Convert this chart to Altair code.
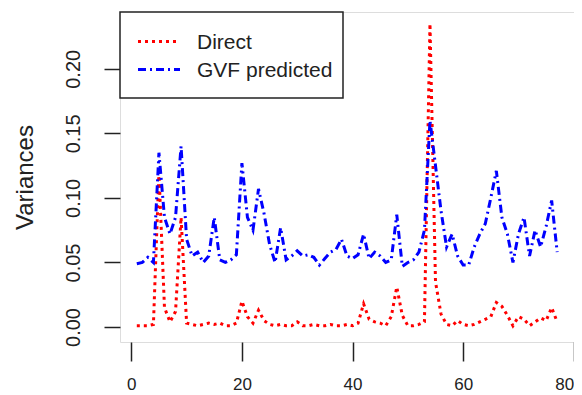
import altair as alt
import pandas as pd

x_index = list(range(1, 78))

direct = [
    0.001, 0.001, 0.001, 0.002, 0.120, 0.015, 0.004, 0.012, 0.085, 0.003,
    0.002, 0.001, 0.002, 0.003, 0.002, 0.003, 0.001, 0.001, 0.003, 0.020,
    0.008, 0.003, 0.013, 0.005, 0.002, 0.001, 0.002, 0.001, 0.001, 0.004,
    0.001, 0.001, 0.002, 0.001, 0.001, 0.002, 0.001, 0.001, 0.002, 0.001,
    0.003, 0.018, 0.006, 0.004, 0.003, 0.001, 0.008, 0.031, 0.009, 0.001,
    0.001, 0.002, 0.004, 0.235, 0.035, 0.010, 0.002, 0.001, 0.005, 0.002,
    0.001, 0.002, 0.004, 0.006, 0.008, 0.019, 0.016, 0.009, 0.001, 0.008,
    0.006, 0.001, 0.004, 0.007, 0.005, 0.015, 0.004,
]

gvf = [
    0.049, 0.050, 0.054, 0.050, 0.135, 0.085, 0.072, 0.085, 0.140, 0.068,
    0.055, 0.058, 0.050, 0.055, 0.085, 0.052, 0.050, 0.052, 0.056, 0.127,
    0.085, 0.075, 0.107, 0.088, 0.064, 0.050, 0.077, 0.052, 0.055, 0.059,
    0.055, 0.056, 0.054, 0.048, 0.053, 0.058, 0.060, 0.068, 0.055, 0.053,
    0.056, 0.072, 0.053, 0.058, 0.055, 0.050, 0.052, 0.087, 0.047, 0.050,
    0.052, 0.058, 0.075, 0.160, 0.125, 0.090, 0.062, 0.072, 0.055, 0.048,
    0.048, 0.062, 0.072, 0.080, 0.100, 0.121, 0.085, 0.072, 0.050, 0.072,
    0.085, 0.055, 0.075, 0.062, 0.078, 0.098, 0.058,
]

series_names = ["Direct", "GVF predicted"]
series_colors = ["#ff0000", "#0000ff"]
series_dashes = [[3, 4], [8, 4, 2, 4]]

x_ticks = [0, 20, 40, 60, 80]
y_ticks = [0.0, 0.05, 0.10, 0.15, 0.20]

df = pd.DataFrame({
    "x": x_index + x_index,
    "value": direct + gvf,
    "series": [series_names[0]] * len(direct) + [series_names[1]] * len(gvf),
})

FONT = "Liberation Sans"
INK = "#222"

lines = alt.Chart(df).mark_line(strokeWidth=3).encode(
    x=alt.X(
        "x:Q",
        scale=alt.Scale(domain=[-2.04, 80.04], nice=False, zero=False),
        axis=alt.Axis(
            values=x_ticks, title=None, grid=False, domain=False,
            tickSize=19, tickWidth=1.5, tickColor=INK,
            labelFontSize=17, labelPadding=15, labelFlush=False,
            labelAlign={
                "condition": {"test": "datum.value >= 80", "value": "right"},
                "value": "center",
            },
            labelColor=INK, labelFont=FONT, labelOverlap=False,
        ),
    ),
    y=alt.Y(
        "value:Q",
        scale=alt.Scale(domain=[-0.0116, 0.244], nice=False, zero=False),
        axis=alt.Axis(
            values=y_ticks, format=".2f", title="Variances", grid=False,
            domain=False, tickSize=16, tickWidth=1.5, tickColor=INK,
            labelFontSize=20, labelAngle=270, labelAlign="center",
            labelBaseline="alphabetic", labelPadding=25, labelFlush=False,
            labelColor=INK, labelFont=FONT, labelOverlap=False,
            titleFontSize=24, titleFont=FONT, titleFontWeight="normal",
            titleColor=INK, titleAngle=270, titleAlign="center",
            titleBaseline="alphabetic", titleX=-88, titleY=165,
        ),
    ),
    color=alt.Color(
        "series:N",
        scale=alt.Scale(domain=series_names, range=series_colors),
        legend=None,
    ),
    strokeDash=alt.StrokeDash(
        "series:N",
        scale=alt.Scale(domain=series_names, range=series_dashes),
        legend=None,
    ),
)

# Manual R-style legend box in the top-left corner of the plot
anchor = alt.Chart(pd.DataFrame({"k": [0]}))

legend_box = anchor.mark_rect(fill="white", stroke=INK, strokeWidth=1.5).encode(
    x=alt.value(0), x2=alt.value(223), y=alt.value(0), y2=alt.value(86)
)

legend_layers = [legend_box]
row_y = [29.5, 57.5]
for name, colr, dash, ry in zip(series_names, series_colors, series_dashes, row_y):
    legend_layers.append(
        anchor.mark_rule(color=colr, strokeDash=dash, strokeWidth=3).encode(
            x=alt.value(18), x2=alt.value(60), y=alt.value(ry)
        )
    )
    legend_layers.append(
        anchor.mark_text(
            align="left", baseline="middle", fontSize=21, font=FONT, color=INK
        ).encode(x=alt.value(77), y=alt.value(ry + 1.5), text=alt.value(name))
    )

chart = alt.layer(lines, *legend_layers).properties(
    width=454,
    height=330,
    autosize=alt.AutoSizeParams(type="none"),
    padding={"left": 112, "top": 4, "right": 0, "bottom": 50},
).configure_view(
    stroke=INK,
    strokeWidth=1.5,
).configure(
    background="white",
)

chart.save("out.html", embed_options={"renderer": "svg", "actions": False})
